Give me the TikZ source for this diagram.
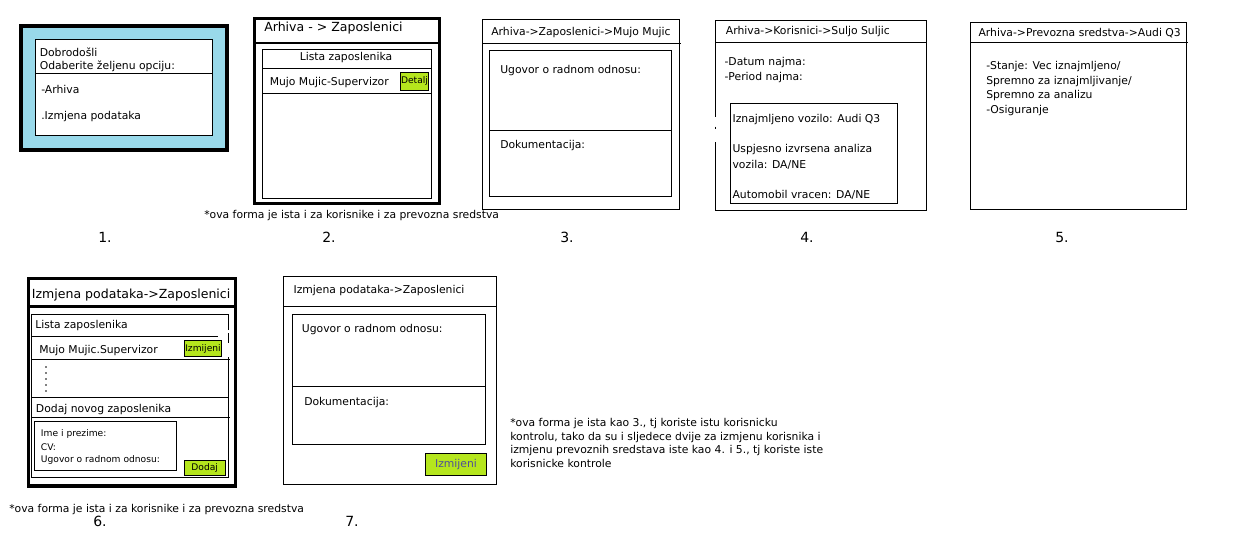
\documentclass[tikz,border=0pt]{standalone}
\usepackage{fontspec}
\setmainfont{DejaVu Sans}
\usetikzlibrary{positioning}

\definecolor{paintblue}{RGB}{153,217,234}
\definecolor{paintgreen}{RGB}{181,230,29}
\definecolor{btntext}{RGB}{80,80,150}

\newcommand{\basefont}{\fontsize{8.1}{9.7}\selectfont}
\newcommand{\bigfont}{\fontsize{9.4}{11}\selectfont}
\newcommand{\smallfont}{\fontsize{6.85}{8}\selectfont}
\newcommand{\numfont}{\fontsize{10.5}{12}\selectfont}

\begin{document}
\begin{tikzpicture}[x=0.75pt,y=-0.75pt,
      txt/.style={anchor=west,inner sep=0pt,font=\basefont},
      bigtxt/.style={txt,font=\bigfont},
      smalltxt/.style={txt,font=\smallfont},
      numlbl/.style={inner sep=0pt,font=\numfont},
      frame/.style={draw=black,line width=0.75pt},
      heavyframe/.style={draw=black,line width=2.5pt},
      button/.style={draw=black,fill=paintgreen,line width=0.75pt,
         inner sep=0pt,font=\smallfont}
      ]
      \fill[white] (0,0) rectangle (1252,549);
      \useasboundingbox (0,0) rectangle (1252,549);

      % 1. welcome
      \draw[heavyframe,fill=paintblue] (21,26) rectangle (227,150);
      \draw[frame,fill=white] (35,40) rectangle (212.7,135.7);
      \draw[frame] (35,73.3) -- (212.7,73.3);
      \node[txt] (w1) at (39.5,52) {Dobrodošli};
      \node[txt] (w2) at (39.5,66.5) {Odaberite željenu opciju:};
      \node[txt] (w3) at (41,89) {-Arhiva};
      \node[txt] (w4) at (41,116.5) {.Izmjena podataka};

      % 2. lista
      \draw[heavyframe,line width=2.25pt] (254.2,18.8) rectangle (439.2,203.5);
      \draw[line width=1.5pt] (254.2,43.5) -- (439.2,43.5);
      \draw[frame] (262.3,49.3) rectangle (431.7,198.3);
      \draw[frame] (262.3,68.3) -- (431.7,68.3);
      \draw[frame] (262.3,93.3) -- (431.7,93.3);
      \node[bigtxt] (a2) at (264,28.5) {Arhiva - > Zaposlenici};
      \node[txt,anchor=center] (l2) at (346,57.5) {Lista zaposlenika};
      \node[txt] (m2) at (269.5,82.3) {Mujo Mujic-Supervizor};
      \node[button,minimum width=21.3pt,minimum height=13.5pt] (detalj) at (414.5,81.3) {Detalj};
      \node[txt] (note2) at (204,216) {*ova forma je ista i za korisnike i za prevozna sredstva};

      % 3. zaposlenik
      \draw[frame] (482.7,19.3) rectangle (679.3,209);
      \draw[frame] (482.7,43.3) -- (680.7,43.3);
      \draw[frame] (489.3,50.7) rectangle (671.7,196);
      \draw[frame] (489.3,130.7) -- (671.7,130.7);
      \node[txt] (a3) at (491,33) {Arhiva->Zaposlenici->Mujo Mujic};
      \node[txt] (u3) at (500,70.5) {Ugovor o radnom odnosu:};
      \node[txt] (d3) at (500,146) {Dokumentacija:};

      % 4. korisnik
      \draw[frame] (715.7,116.7) -- (715.7,20.7) -- (926.7,20.7) -- (926.7,210) -- (715.7,210) -- (715.7,141.7);
      \draw[frame] (715.7,126.7) -- (715.7,129.3);
      \draw[frame] (715.7,42.3) -- (926.7,42.3);
      \draw[frame] (730.7,103.3) rectangle (897.7,203.3);
      \node[txt] (a4) at (725.7,31.5) {Arhiva->Korisnici->Suljo Suljic};
      \node[txt] (k1) at (724.3,62.3) {-Datum najma:};
      \node[txt] (k2) at (724.3,77.3) {-Period najma:};
      \node[txt] (k3) at (732.3,120) {Iznajmljeno vozilo: Audi Q3};
      \node[txt] (k4) at (732.3,150) {Uspjesno izvrsena analiza};
      \node[txt] (k5) at (732.3,165) {vozila: DA/NE};
      \node[txt] (k6) at (732.3,195) {Automobil vracen: DA/NE};

      % 5. vozilo
      \draw[frame] (970.7,22.7) rectangle (1186.7,209);
      \draw[frame] (970.7,42.3) -- (1188,42.3);
      \node[txt] (a5) at (978.3,33) {Arhiva->Prevozna sredstva->Audi Q3};
      \node[txt,anchor=north west,align=left,font=\fontsize{8.1}{10.9}\selectfont] (s5)
         at (986,61) {-Stanje: Vec iznajmljeno/\\Spremno za iznajmljivanje/\\Spremno za analizu\\-Osiguranje};

      % 6. izmjena - lista
      \draw[heavyframe] (28.3,278.3) rectangle (235.7,486);
      \draw[line width=2.25pt] (28.3,306.7) -- (235.7,306.7);
      \draw[frame] (228.7,330) -- (228.7,314.3) -- (31.7,314.3) -- (31.7,477.3) -- (228.7,477.3) -- (228.7,356.7);
      \draw[frame] (228.7,333) -- (228.7,343);
      \draw[frame] (31.7,336.7) -- (218,336.7);
      \draw[frame] (31.7,359.3) -- (230,359.3);
      \draw[frame] (31.7,397.3) -- (228.7,397.3);
      \draw[frame] (31.7,417.3) -- (230,417.3);
      \draw[frame] (34.7,421.7) rectangle (176.7,470.7);
      \node[bigtxt] (a6) at (31.7,295.5) {Izmjena podataka->Zaposlenici};
      \node[txt] (l6) at (35,326) {Lista zaposlenika};
      \node[txt] (m6) at (39,350.3) {Mujo Mujic.Supervizor};
      \node[button,minimum width=28pt,minimum height=12.3pt] (izmj6) at (203,348.5) {Izmijeni};
      \foreach \y in {367,373,379,385,391}
         \fill (46,\y) circle (0.6pt);
      \node[txt] (n6) at (35.7,409.3) {Dodaj novog zaposlenika};
      \node[smalltxt] (i6) at (40.7,434) {Ime i prezime:};
      \node[smalltxt] (c6) at (40.7,447) {CV:};
      \node[smalltxt] (u6) at (40.7,459.5) {Ugovor o radnom odnosu:};
      \node[button,minimum width=30.5pt,minimum height=11.5pt] (dodaj) at (204.7,467.7) {Dodaj};
      \node[txt] (note6) at (9,510) {*ova forma je ista i za korisnike i za prevozna sredstva};

      % 7. izmjena - zaposlenik
      \draw[frame] (283.3,276.7) rectangle (496.7,484.3);
      \draw[frame] (283.3,306.7) -- (496.7,306.7);
      \draw[frame] (292.3,314.3) rectangle (485.7,444.3);
      \draw[frame] (292.3,386.7) -- (485.7,386.7);
      \node[txt] (a7) at (293.3,291) {Izmjena podataka->Zaposlenici};
      \node[txt] (u7) at (301.7,330) {Ugovor o radnom odnosu:};
      \node[txt] (d7) at (304,402.3) {Dokumentacija:};
      \node[button,font=\basefont,text=btntext,minimum width=46pt,minimum height=16.8pt] (izmj7) at (456,464.5) {Izmijeni};
      \node[txt,anchor=north west,align=left,font=\fontsize{8.1}{10.1}\selectfont] (note7)
         at (510,418.5) {*ova forma je ista kao 3., tj koriste istu korisnicku\\kontrolu, tako da su i sljedece dvije za izmjenu korisnika i\\izmjenu prevoznih sredstava iste kao 4. i 5., tj koriste iste\\korisnicke kontrole};

    \foreach \n/\x/\y in {% number/x/y
      1/105/237,
      2/329/237,
      3/567/237,
      4/807/237,
      5/1062/237,
      6/100/521.5,
      7/352/521.5}
       \node[numlbl] (num\n) at (\x,\y) {\n.};

\end{tikzpicture}
\end{document}
